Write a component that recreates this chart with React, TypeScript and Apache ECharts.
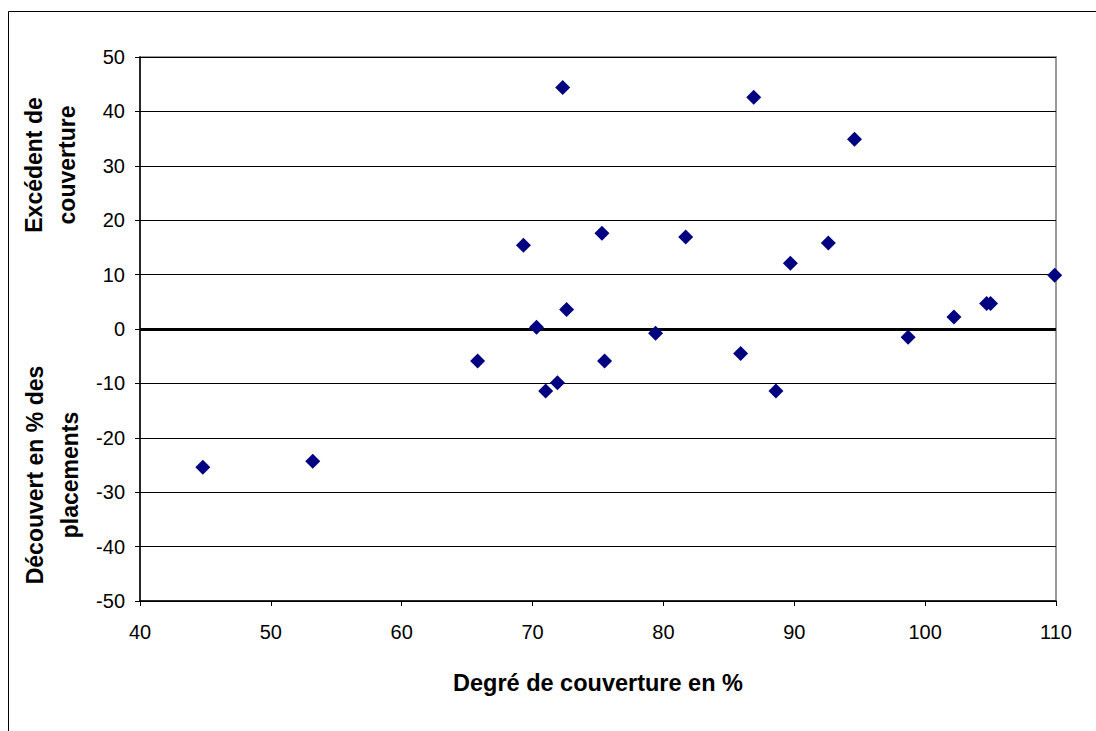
import React, { useEffect, useRef } from "react";
import * as echarts from "echarts";

// Degré de couverture (x, %) and excédent / découvert (y, %)
const coverage: number[] = [
  44.8, 53.2, 65.8, 69.3, 70.3, 71.0, 71.9, 72.3, 72.6, 75.3, 75.5, 79.4,
  81.7, 85.9, 86.9, 88.6, 89.7, 92.6, 94.6, 98.7, 102.2, 104.7, 105.0, 109.9,
];
const surplus: number[] = [
  -25.4, -24.3, -5.9, 15.4, 0.3, -11.4, -9.9, 44.4, 3.6, 17.6, -5.9, -0.8,
  16.9, -4.5, 42.6, -11.4, 12.1, 15.8, 34.9, -1.5, 2.2, 4.7, 4.7, 9.9,
];

const xTitle = "Degré de couverture en %";
const yTitleTop = "Excédent de\ncouverture";
const yTitleBottom = "Découvert en % des\nplacements";

const FONT = "'Liberation Sans', Arial, sans-serif";

export default function App() {
  const ref = useRef<HTMLDivElement>(null);

  useEffect(() => {
    if (!ref.current) return;
    const chart = echarts.init(ref.current, undefined, { renderer: "svg" });
    const points = coverage.map((x, i) => [x, surplus[i]]);

    chart.setOption({
      animation: false,
      backgroundColor: "#ffffff",
      grid: {
        left: 140,
        top: 57,
        right: 40,
        bottom: 130,
        show: true,
        borderColor: "#9a9a9a",
        borderWidth: 2,
        backgroundColor: "transparent",
      },
      xAxis: {
        type: "value",
        min: 40,
        max: 110,
        interval: 10,
        name: xTitle,
        nameLocation: "middle",
        nameGap: 70,
        nameTextStyle: {
          fontFamily: FONT,
          fontSize: 23.5,
          fontWeight: "bold",
          color: "#000",
        },
        axisLine: { onZero: false, lineStyle: { color: "#000", width: 1.5 } },
        axisTick: { show: true, length: 5, lineStyle: { color: "#000" } },
        axisLabel: {
          margin: 21,
          fontFamily: FONT,
          fontSize: 20,
          color: "#000",
        },
        splitLine: { show: false },
      },
      yAxis: {
        type: "value",
        min: -50,
        max: 50,
        interval: 10,
        axisLine: { show: true, onZero: false, lineStyle: { color: "#000", width: 1.5 } },
        axisTick: { show: true, length: 5, lineStyle: { color: "#000" } },
        axisLabel: {
          margin: 15,
          fontFamily: FONT,
          fontSize: 20,
          color: "#000",
        },
        splitLine: { show: true, lineStyle: { color: "#000", width: 1 } },
      },
      series: [
        {
          type: "scatter",
          data: points,
          symbol: "diamond",
          symbolSize: 15,
          itemStyle: { color: "#000080", opacity: 1 },
          z: 3,
          markLine: {
            silent: true,
            symbol: "none",
            label: { show: false },
            lineStyle: { color: "#000", width: 3, type: "solid", opacity: 1 },
            data: [{ yAxis: 0 }],
            z: 2,
          },
        },
      ],
      graphic: [
        {
          type: "rect",
          shape: { x: 8.5, y: 11.5, width: 1200, height: 800 },
          style: { fill: "none", stroke: "#000", lineWidth: 1 },
          silent: true,
        },
        {
          type: "text",
          x: 50,
          y: 165,
          rotation: Math.PI / 2,
          style: {
            text: yTitleTop,
            fontFamily: FONT,
            fontSize: 23,
            fontWeight: "bold",
            fill: "#000",
            align: "center",
            verticalAlign: "middle",
            lineHeight: 33,
          },
        },
        {
          type: "text",
          x: 52,
          y: 475,
          rotation: Math.PI / 2,
          style: {
            text: yTitleBottom,
            fontFamily: FONT,
            fontSize: 23,
            fontWeight: "bold",
            fill: "#000",
            align: "center",
            verticalAlign: "middle",
            lineHeight: 35,
          },
        },
      ],
    });

    return () => chart.dispose();
  }, []);

  return (
    <div
      ref={ref}
      style={{ position: "fixed", left: 0, top: 0, width: 1096, height: 731 }}
    />
  );
}
